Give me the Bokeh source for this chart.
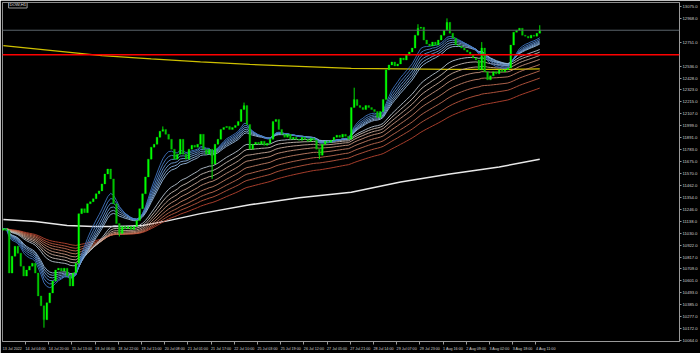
import numpy as np
from bokeh.plotting import figure
from bokeh.models import (Range1d, FixedTicker, CustomJSTickFormatter, PrintfTickFormatter,
                          Span, Label, ColumnDataSource)
from bokeh.embed import file_html
from bokeh.resources import INLINE

# ---- data (2-hour steps) ----
closes = [11074, 11056, 10672, 10824, 10913, 10851, 10734, 10645, 10699, 10734,
          10761, 10672, 10466, 10377, 10252, 10404, 10493, 10600, 10699, 10716,
          10690, 10716, 10645, 10556, 10672, 10761,
          11208, 11253, 11217, 11297, 11315, 11342, 11387, 11413, 11476, 11565,
          11610, 11521, 11297, 11119, 11029, 11092, 11074, 11092, 11065, 11092,
          11145, 11253, 11387, 11539, 11699, 11807, 11833, 11896, 11950, 11967,
          11923, 11878, 11789, 11699, 11744, 11878, 11744, 11699, 11789, 11824,
          11807, 11833, 11923, 11789, 11744, 11789, 11655, 11833, 11878, 11967,
          11985, 11994, 11967, 11985, 12003, 12039, 12146, 12182, 12012, 11789,
          11833, 11851, 11833, 11860, 11824, 11842, 11878, 12039, 12057, 11967,
          11923, 11896, 11923, 11878, 11896, 11878, 11869, 11896, 11878, 11860,
          11887, 11869, 11789, 11735, 11833, 11860, 11851, 11869, 11896, 11914,
          11896, 11923, 11905, 11878, 12164, 12236, 12182, 12164,
          12146, 12182, 12164, 12146, 12128, 12075, 12128, 12236,
          12504, 12548, 12575, 12539, 12557, 12611, 12593, 12638, 12664, 12700,
          12816, 12879, 12888, 12772, 12736, 12718, 12754, 12727, 12772, 12816,
          12861, 12932, 12834, 12790, 12727, 12718, 12700, 12682, 12664, 12638,
          12611, 12593, 12504, 12700, 12486, 12414, 12450, 12486, 12468, 12504,
          12486, 12504, 12521, 12727, 12843, 12861, 12879, 12816, 12807, 12790,
          12816, 12807, 12834, 12861]

# visible wick extremes (bar index, price)
spike_idx = [14, 40, 55, 72, 83, 109, 121, 143, 153, 165, 185]
spike_val = [10180, 11002, 11994, 11521, 12209, 11699, 12343, 12915, 12968, 12754, 12906]

white_idx = [0, 11, 22, 31, 41, 48, 57, 68, 85, 102, 120, 137, 154, 171, 185]
white_val = [11154, 11137, 11101, 11092, 11092, 11101, 11145, 11208, 11288, 11351,
             11400, 11494, 11565, 11628, 11699]

yellow_idx = [0, 17, 34, 51, 68, 85, 102, 120, 137, 154, 171, 185]
yellow_val = [12722, 12678, 12633, 12602, 12575, 12553, 12535, 12517, 12512, 12508,
              12508, 12512]

ribbon_periods = [10, 12, 14, 16, 18, 20, 33, 39, 46, 54, 64, 76, 90, 110]
ribbon_colors = ["#3f74c0", "#4f82c8", "#6090d0", "#729fd6", "#86aedc", "#9bbde2",
                 "#b8c4d0", "#c8bcb4", "#c8a898", "#c8947e", "#c48066", "#c06c52",
                 "#bc5840", "#b84430"]

x_labels = ["13 Jul 2022", "14 Jul 04:00", "14 Jul 20:00", "15 Jul 13:00", "18 Jul 06:00",
            "18 Jul 22:00", "19 Jul 15:00", "20 Jul 08:00", "21 Jul 01:00", "21 Jul 17:00",
            "22 Jul 10:00", "25 Jul 03:00", "25 Jul 19:00", "26 Jul 12:00", "27 Jul 05:00",
            "27 Jul 21:00", "28 Jul 14:00", "29 Jul 07:00", "29 Jul 23:00", "1 Aug 16:00",
            "2 Aug 09:00", "3 Aug 02:00", "3 Aug 18:00", "4 Aug 11:00"]

y_ticks = [10064.0, 10172.0, 10277.0, 10385.0, 10493.0, 10601.0, 10709.0, 10817.0,
           10922.0, 11030.0, 11138.0, 11246.0, 11354.0, 11462.0, 11570.0, 11675.0,
           11783.0, 11891.0, 11999.0, 12107.0, 12215.0, 12323.0, 12428.0, 12536.0,
           12751.0, 12968.0, 13075.0]

red_level = 12640.0
symbol = "DOW,H1"

# ---- derived ----
n = len(closes)
idx = np.arange(n)
c = np.array(closes, dtype=float)
o = np.concatenate([[c[0] - 15], c[:-1]])
up = c >= o
src_up = ColumnDataSource(dict(x=idx[up], top=np.maximum(o, c)[up], bottom=np.minimum(o, c)[up]))
src_dn = ColumnDataSource(dict(x=idx[~up], top=np.maximum(o, c)[~up], bottom=np.minimum(o, c)[~up]))

def ema(vals, period, seed):
    a = 2.0 / (period + 1)
    out = []
    e = seed
    for v in vals:
        e = e + a * (v - e)
        out.append(e)
    return out

p = figure(width=700, height=353, output_backend="svg", toolbar_location=None,
           x_range=Range1d(-0.3, 233.2), y_range=Range1d(10055.4, 13111),
           background_fill_color="black", border_fill_color="black",
           y_axis_location="right",
           min_border_left=2, min_border_right=18, min_border_top=2, min_border_bottom=9)
p.grid.visible = False
p.outline_line_color = "#8c8c8c"

p.add_layout(Span(location=red_level, dimension="width", line_color="#ff0000", line_width=1.5))
p.add_layout(Span(location=closes[-1], dimension="width", line_color="#5a636b", line_width=1))

p.line(yellow_idx, yellow_val, line_color="#cfc000", line_width=1.3)
p.line(white_idx, white_val, line_color="#e8e8e8", line_width=1.5)

for per, col in zip(ribbon_periods[::-1], ribbon_colors[::-1]):
    p.line(idx, ema(closes, per, closes[0]), line_color=col, line_width=0.9)

p.segment(x0=spike_idx, y0=[closes[i] for i in spike_idx], x1=spike_idx, y1=spike_val,
          line_color="#00e000", line_width=1)
p.vbar(x="x", top="top", bottom="bottom", width=0.6, source=src_up,
       fill_color="#00ff00", line_color="#00ff00", line_width=0.3)
p.vbar(x="x", top="top", bottom="bottom", width=0.6, source=src_dn,
       fill_color="#00c400", line_color="#00c400", line_width=0.3)

# axes
xa = p.xaxis[0]
xa.ticker = FixedTicker(ticks=[8 * k + 3.1 for k in range(len(x_labels))],
                        minor_ticks=[8 * k - 0.35 for k in range(len(x_labels))])
xa.formatter = CustomJSTickFormatter(args=dict(labels=x_labels),
                                     code="const k = Math.round((tick - 3.1) / 8); return labels[k] || '';")
xa.major_tick_out = 0
xa.major_tick_in = 0
xa.minor_tick_out = 3
xa.minor_tick_in = 0
xa.minor_tick_line_color = "#9a9a9a"
xa.axis_line_color = "#9a9a9a"
xa.major_label_text_font = "Liberation Sans"
xa.major_label_text_font_size = "3.7px"
xa.major_label_text_color = "#d0d0d0"
xa.major_label_standoff = 2

ya = p.yaxis[0]
ya.ticker = FixedTicker(ticks=y_ticks)
ya.formatter = PrintfTickFormatter(format="%.1f")
ya.major_tick_out = 2
ya.major_tick_in = 0
ya.minor_tick_out = 0
ya.minor_tick_in = 0
ya.major_tick_line_color = "#9a9a9a"
ya.axis_line_color = "#9a9a9a"
ya.major_label_text_font = "Liberation Sans"
ya.major_label_text_font_size = "4.2px"
ya.major_label_text_color = "#d0d0d0"
ya.major_label_standoff = 1

p.add_layout(Label(x=234.0, y=red_level, text="%.1f" % red_level, text_font="Liberation Sans",
                   text_font_size="4.2px", text_color="white", text_baseline="middle",
                   background_fill_color="#ff0000", padding=1))
p.add_layout(Label(x=234.0, y=closes[-1], text="%.1f" % closes[-1], text_font="Liberation Sans",
                   text_font_size="4.2px", text_color="black", text_baseline="middle",
                   background_fill_color="#d8d8d8", padding=1))
p.add_layout(Label(x=1.8, y=13093, text=symbol, text_font="Liberation Sans",
                   text_font_size="4.2px", text_color="#e0e0e0", text_baseline="middle",
                   border_line_color="#9a9a9a", padding=1))

open("out.html", "w").write(file_html(p, INLINE))
